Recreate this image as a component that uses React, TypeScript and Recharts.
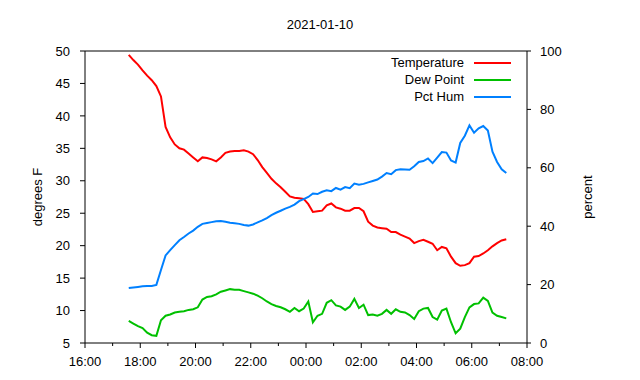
import React from 'react';
import { LineChart, Line, XAxis, YAxis, Legend, ReferenceLine } from 'recharts';

// minutes since 16:00
const minutes = [
  95, 105, 115, 125, 135, 145, 155, 165, 175, 185,
  195, 205, 215, 225, 235, 245, 255, 265, 275, 285,
  295, 305, 315, 325, 335, 345, 355, 365, 375, 385,
  395, 405, 415, 425, 435, 445, 455, 465, 475, 485,
  495, 505, 515, 525, 535, 545, 555, 565, 575, 585,
  595, 605, 615, 625, 635, 645, 655, 665, 675, 685,
  695, 705, 715, 725, 735, 745, 755, 765, 775, 785,
  795, 805, 815, 825, 835, 845, 855, 865, 875, 885,
  895, 905, 915,
];

const temperature = [
  49.4, 48.6, 47.9, 47.0, 46.2, 45.5, 44.6, 43.0, 38.3, 36.7,
  35.6, 35.0, 34.8, 34.2, 33.6, 33.0, 33.6, 33.5, 33.3, 33.0,
  33.6, 34.3, 34.5, 34.6, 34.6, 34.7, 34.5, 34.1, 33.2, 32.1,
  31.2, 30.3, 29.6, 29.0, 28.3, 27.6, 27.4, 27.3, 27.2, 26.4,
  25.2, 25.3, 25.4, 26.2, 26.5, 25.9, 25.7, 25.4, 25.4, 25.8,
  25.8, 25.3, 23.7, 23.1, 22.8, 22.7, 22.6, 22.1, 22.1, 21.7,
  21.4, 21.1, 20.4, 20.7, 20.9, 20.6, 20.3, 19.3, 19.8, 19.6,
  18.3, 17.3, 16.9, 17.0, 17.3, 18.3, 18.4, 18.8, 19.3, 19.9,
  20.4, 20.8, 21.0,
];

const dewPoint = [
  8.4, 8.0, 7.6, 7.3, 6.6, 6.2, 6.1, 8.5, 9.2, 9.4,
  9.7, 9.8, 9.9, 10.1, 10.2, 10.5, 11.7, 12.1, 12.2, 12.5,
  12.9, 13.1, 13.3, 13.2, 13.2, 13.0, 12.8, 12.6, 12.3, 11.9,
  11.4, 11.0, 10.7, 10.5, 10.2, 9.8, 10.4, 9.9, 10.3, 11.4,
  8.2, 9.2, 9.5, 11.2, 11.6, 10.8, 10.6, 10.1, 10.6, 11.8,
  10.4, 10.9, 9.3, 9.4, 9.2, 9.5, 10.1, 9.5, 10.2, 9.8,
  9.7, 9.3, 8.7, 9.9, 10.3, 10.4, 9.0, 8.6, 10.0, 10.3,
  8.2, 6.5, 7.2, 9.0, 10.5, 11.0, 11.1, 12.0, 11.5, 9.7,
  9.2, 9.0, 8.8,
];

const pctHum = [
  18.8, 19.0, 19.2, 19.4, 19.5, 19.5, 19.9, 25.0, 30.0, 31.8,
  33.5, 35.2, 36.3, 37.5, 38.5, 39.8, 40.8, 41.1, 41.4, 41.7,
  41.8, 41.5, 41.2, 41.0, 40.8, 40.4, 40.2, 40.6, 41.3, 42.0,
  42.8, 43.8, 44.6, 45.3, 46.0, 46.6, 47.4, 48.6, 49.3, 50.0,
  51.2, 51.0, 51.8, 52.3, 52.0, 53.1, 52.5, 53.4, 53.0, 54.6,
  54.2, 54.5, 55.0, 55.5, 56.0, 57.0, 58.2, 57.8, 59.2, 59.5,
  59.4, 59.3, 60.5, 62.0, 62.3, 63.2, 61.6, 63.5, 65.4, 65.2,
  62.5, 61.8, 68.5, 71.0, 74.5, 72.0, 73.5, 74.3, 72.8, 65.5,
  62.0, 59.5, 58.2,
];

const seriesNames = ['Temperature', 'Dew Point', 'Pct Hum'];
const xTicks = [0, 60, 120, 180, 240, 300, 360, 420, 480, 540, 600, 660, 720, 780, 840, 900, 960];
const leftTicks = [5, 10, 15, 20, 25, 30, 35, 40, 45, 50];
const rightTicks = [0, 20, 40, 60, 80, 100];

const data = minutes.map((m, i) => ({
  t: m,
  temp: temperature[i],
  dew: dewPoint[i],
  hum: pctHum[i],
}));

const FONT = '"Liberation Sans", Arial, Helvetica, sans-serif';

const fmtTime = (m: number) => {
  const h = (16 + Math.floor(m / 60)) % 24;
  return `${String(h).padStart(2, '0')}:00`;
};

const HourTick = (props: any) => {
  const { x, y, payload } = props;
  const major = payload.value % 120 === 0;
  return (
    <g>
      <line x1={x} y1={y} x2={x} y2={y + (major ? 5 : 3)} stroke="#000" strokeWidth={1} />
      {major && (
        <text x={x} y={y + 14} dy="0.71em" textAnchor="middle" fill="#000" fontSize={13} fontFamily={FONT}>
          {fmtTime(payload.value)}
        </text>
      )}
    </g>
  );
};

const LegendContent = (props: any) => {
  const payload = [...(props.payload || [])].sort(
    (a: any, b: any) => seriesNames.indexOf(a.value) - seriesNames.indexOf(b.value)
  );
  return (
    <div style={{ fontFamily: FONT, fontSize: 13, color: '#000' }}>
      {payload.map((p: any) => (
        <div key={p.value} style={{ display: 'flex', justifyContent: 'flex-end', alignItems: 'center', height: 17 }}>
          <span style={{ lineHeight: '17px' }}>{p.value}</span>
          <span style={{ display: 'inline-block', width: 37, height: 2, background: p.color, marginLeft: 10 }} />
        </div>
      ))}
    </div>
  );
};

const SideLabel = (text: string, xPos: number) => (props: any) => {
  const vb = props.viewBox || { y: 51, height: 292 };
  const cy = vb.y + vb.height / 2;
  return (
    <text
      x={xPos}
      y={cy}
      transform={`rotate(-90 ${xPos} ${cy})`}
      textAnchor="middle"
      dominantBaseline="central"
      fill="#000"
      fontSize={13}
      fontFamily={FONT}
    >
      {text}
    </text>
  );
};

export default function App() {
  return (
    <div style={{ position: 'absolute', left: 0, top: 0, width: 640, height: 380, background: '#fff' }}>
      <div
        style={{
          position: 'absolute',
          top: 17,
          left: 0,
          width: 640,
          textAlign: 'center',
          fontFamily: FONT,
          fontSize: 13,
          color: '#000',
        }}
      >
        2021-01-10
      </div>
      <LineChart width={640} height={380} data={data} margin={{ top: 51, right: 0, bottom: 0, left: 0 }}>
        <XAxis
          dataKey="t"
          type="number"
          domain={[0, 960]}
          ticks={xTicks}
          interval={0}
          height={37}
          tickSize={0}
          tickMargin={0}
          tickLine={false}
          axisLine={{ stroke: '#000' }}
          tick={<HourTick />}
          allowDataOverflow
        />
        <YAxis
          yAxisId="left"
          orientation="left"
          domain={[5, 50]}
          ticks={leftTicks}
          interval={0}
          width={85}
          tickSize={5}
          tickMargin={10}
          axisLine={{ stroke: '#000' }}
          tickLine={{ stroke: '#000' }}
          tick={{ fill: '#000', fontSize: 13, fontFamily: FONT }}
          label={{ content: SideLabel('degrees F', 37) }}
          allowDataOverflow
        />
        <YAxis
          yAxisId="right"
          orientation="right"
          domain={[0, 100]}
          ticks={rightTicks}
          interval={0}
          width={113}
          tickSize={4}
          tickMargin={9}
          axisLine={{ stroke: '#000' }}
          tickLine={{ stroke: '#000' }}
          tick={{ fill: '#000', fontSize: 13, fontFamily: FONT, textAnchor: 'start' }}
          label={{ content: SideLabel('percent', 587) }}
          allowDataOverflow
        />
        <ReferenceLine yAxisId="left" y={50} stroke="#000" strokeWidth={1} />
        <Legend
          layout="vertical"
          align="center"
          verticalAlign="middle"
          content={<LegendContent />}
          wrapperStyle={{ position: 'absolute', top: 54, left: 300, width: 211, height: 51 }}
        />
        <Line
          yAxisId="left"
          dataKey="temp"
          name="Temperature"
          stroke="#ff0000"
          strokeWidth={2}
          dot={false}
          type="linear"
          isAnimationActive={false}
        />
        <Line
          yAxisId="left"
          dataKey="dew"
          name="Dew Point"
          stroke="#00c000"
          strokeWidth={2}
          dot={false}
          type="linear"
          isAnimationActive={false}
        />
        <Line
          yAxisId="right"
          dataKey="hum"
          name="Pct Hum"
          stroke="#0080ff"
          strokeWidth={2}
          dot={false}
          type="linear"
          isAnimationActive={false}
        />
      </LineChart>
    </div>
  );
}
